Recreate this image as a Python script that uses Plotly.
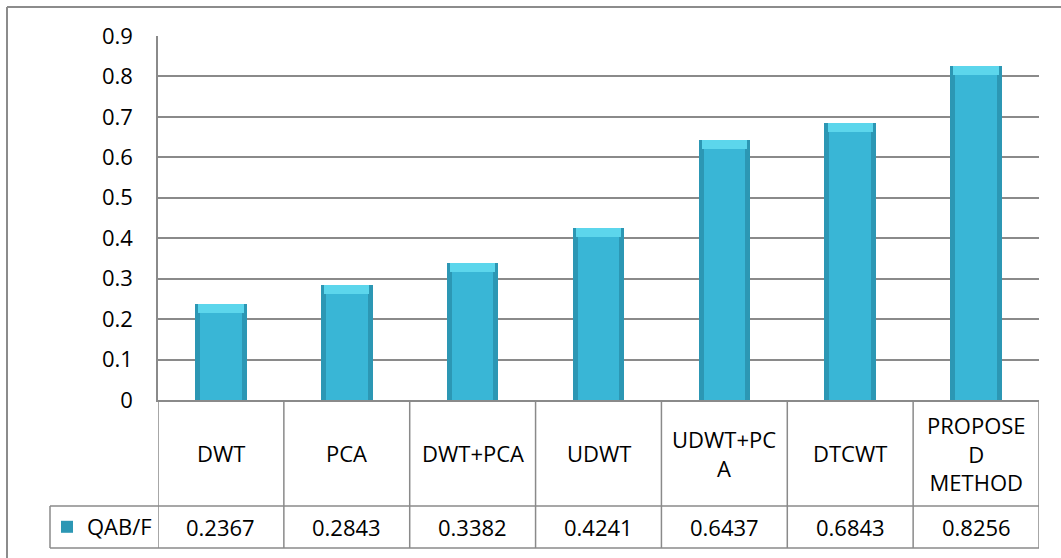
import plotly.graph_objects as go

# Fusion quality metric per method
categories = ["DWT", "PCA", "DWT+PCA", "UDWT", "UDWT+PCA", "DTCWT", "PROPOSED METHOD"]
cell_labels = ["DWT", "PCA", "DWT+PCA", "UDWT", "UDWT+PC<br>A", "DTCWT", "PROPOSE<br>D<br>METHOD"]
series_name = "QAB/F"
qabf = [0.2367, 0.2843, 0.3382, 0.4241, 0.6437, 0.6843, 0.8256]
y_ticks = [0, 0.1, 0.2, 0.3, 0.4, 0.5, 0.6, 0.7, 0.8, 0.9]
y_tick_text = ["0", "0.1", "0.2", "0.3", "0.4", "0.5", "0.6", "0.7", "0.8", "0.9"]

FONT = "Open Sans"
FS = 22
GRID = "#8a8a8a"
W, H = 1061, 558
L, R, T, B = 158, 22, 36, 158
PW, PH = W - L - R, H - T - B


def px_x(p):
    return (p - L) / PW


def px_y(p):
    return (H - B - p) / PH


xs = list(range(len(categories)))

fig = go.Figure()
# bar body (darker edges)
fig.add_trace(go.Bar(
    x=xs, y=qabf, width=0.41, name=series_name, showlegend=True,
    marker=dict(color="#2c97b4", line=dict(width=0)),
    hoverinfo="skip",
))
# lighter front face
fig.add_trace(go.Bar(
    x=xs, y=[v - 0.008 for v in qabf], width=0.33, showlegend=False,
    marker=dict(color="#39b6d6", line=dict(width=0)),
    hoverinfo="skip",
))
# bevelled top cap
fig.add_trace(go.Bar(
    x=xs, y=[0.022] * len(qabf), base=[v - 0.022 for v in qabf], width=0.36,
    showlegend=False,
    marker=dict(color="#5cd6ec", line=dict(width=0)),
    hoverinfo="skip",
))

shapes = []
line = dict(color=GRID, width=1.5)
y_row1 = px_y(506)
y_row2 = px_y(548)
x_left = px_x(50)
# data table horizontal rules
shapes.append(dict(type="line", xref="paper", yref="paper", x0=x_left, x1=1, y0=y_row1, y1=y_row1, line=line))
shapes.append(dict(type="line", xref="paper", yref="paper", x0=x_left, x1=1, y0=y_row2, y1=y_row2, line=line))
# data table vertical rules at category boundaries
for i in range(len(categories) + 1):
    shapes.append(dict(type="line", xref="x", yref="paper", x0=i - 0.5, x1=i - 0.5,
                       y0=0, y1=y_row2, line=line))
shapes.append(dict(type="line", xref="paper", yref="paper", x0=x_left, x1=x_left,
                   y0=y_row1, y1=y_row2, line=line))
# outer chart frame: only the top and left edges fall inside the page
frame = dict(color="#8c8c8c", width=2)
shapes.append(dict(type="line", xref="paper", yref="paper",
                   x0=px_x(7), x1=px_x(W), y0=px_y(7), y1=px_y(7), line=frame))
shapes.append(dict(type="line", xref="paper", yref="paper",
                   x0=px_x(7), x1=px_x(7), y0=px_y(7), y1=px_y(H), line=frame))

annotations = []
for i, lab in enumerate(cell_labels):
    annotations.append(dict(x=i, y=px_y(453), xref="x", yref="paper", text=lab,
                            showarrow=False, font=dict(family=FONT, size=FS, color="black"),
                            xanchor="center", yanchor="middle", align="center"))
for i, v in enumerate(qabf):
    annotations.append(dict(x=i, y=px_y(527), xref="x", yref="paper", text=f"{v:.4f}",
                            showarrow=False, font=dict(family=FONT, size=FS, color="black"),
                            xanchor="center", yanchor="middle"))

fig.update_layout(
    width=W, height=H,
    margin=dict(l=L, r=R, t=T, b=B, autoexpand=False),
    paper_bgcolor="white", plot_bgcolor="white",
    barmode="overlay", bargap=0,
    font=dict(family=FONT, size=FS, color="black"),
    shapes=shapes, annotations=annotations,
    legend=dict(x=px_x(47), y=px_y(527), xanchor="left", yanchor="middle",
                bgcolor="rgba(0,0,0,0)", font=dict(family=FONT, size=FS, color="black"),
                itemwidth=30),
    xaxis=dict(range=[-0.5, len(categories) - 0.5], showticklabels=False, showgrid=False,
               zeroline=False, showline=True, linecolor=GRID, linewidth=1.5, ticks=""),
    yaxis=dict(range=[0, 0.9], tickvals=y_ticks, ticktext=y_tick_text, showgrid=True,
               gridcolor=GRID, gridwidth=1.5, zeroline=False, showline=True,
               linecolor=GRID, linewidth=1.5, ticks="", ticklabelstandoff=19,
               tickfont=dict(family=FONT, size=FS, color="black")),
)

fig.write_html("out.html")
